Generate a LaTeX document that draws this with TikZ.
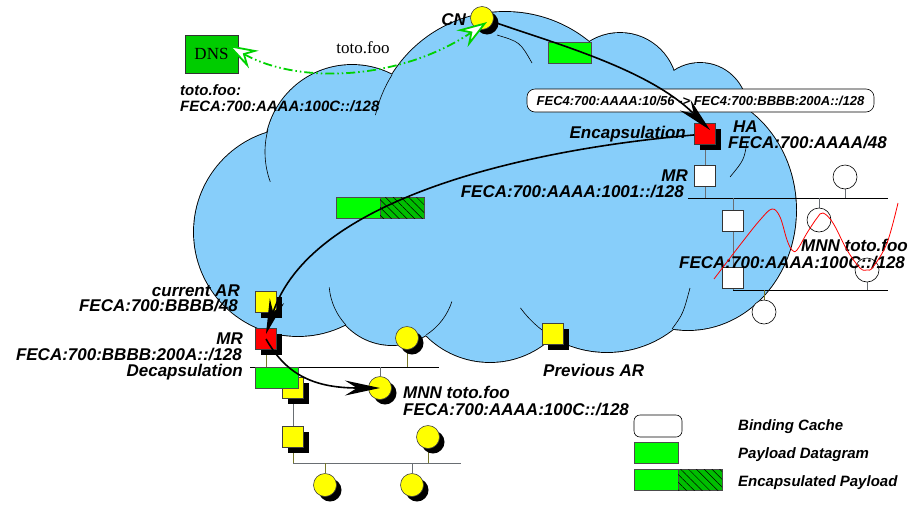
\documentclass[tikz,border=0pt]{standalone}
\usepackage{fontspec}
\setmainfont{Liberation Serif}
\setsansfont{Liberation Sans}
\usetikzlibrary{arrows.meta,shadows,patterns.meta}
\pgfdeclarelayer{cloudlayer}
\pgfdeclarelayer{netlayer}
\pgfsetlayers{cloudlayer,netlayer,main}
\definecolor{cloudblue}{RGB}{135,206,250}
\definecolor{pgreen}{RGB}{0,255,0}
\definecolor{dnsgreen}{RGB}{0,204,0}
\definecolor{hatchgreen}{RGB}{0,190,0}
\definecolor{arrowgreen}{RGB}{0,210,0}
\definecolor{yel}{RGB}{255,255,0}
\definecolor{netgray}{RGB}{105,110,115}
\definecolor{stemolive}{RGB}{120,120,40}
\begin{document}
\begin{tikzpicture}[x=1pt,y=-1pt,
  lab/.style={font=\sffamily\bfseries\itshape\fontsize{17}{19}\selectfont, inner sep=0pt},
  midlab/.style={font=\sffamily\bfseries\itshape\fontsize{15}{17}\selectfont, inner sep=0pt},
  smalllab/.style={font=\sffamily\bfseries\itshape\fontsize{13}{15}\selectfont, inner sep=0pt},
  serif/.style={font=\rmfamily\fontsize{17}{19}\selectfont, inner sep=0pt},
  shad/.style={drop shadow={opacity=1,shadow xshift=5pt,shadow yshift=-5pt,fill=black}},
  sqnode/.style={rectangle, draw=black!75, line width=0.6pt, minimum size=21pt, inner sep=0pt, shad},
  cirnode/.style={circle, draw=black!75, line width=0.6pt, minimum size=23pt, inner sep=0pt, shad},
  plainsq/.style={rectangle, draw=black!80, line width=0.6pt, fill=white, minimum size=21pt, inner sep=0pt},
  plaincir/.style={circle, draw=black, line width=0.6pt, fill=white, minimum size=24pt, inner sep=0pt},
  payload/.style={rectangle, draw=black!70, line width=0.6pt, fill=pgreen, minimum width=43pt, minimum height=21pt, inner sep=0pt},
  hatchbox/.style={rectangle, draw=black!70, line width=0.6pt, fill=hatchgreen, minimum width=44pt, minimum height=21pt, inner sep=0pt,
     postaction={pattern={Lines[angle=-45,distance=5.5pt,line width=0.5pt]},pattern color=black}},
  net/.style={line width=0.7pt, black},
  graynet/.style={line width=0.9pt, netgray},
  stem/.style={line width=0.8pt, netgray},
  olivestem/.style={line width=0.8pt, stemolive},
  bigarrow/.style={line width=1.6pt, arrows={-Stealth[length=35pt,width=15pt,inset=12pt]}},
  garrow/.style={arrowgreen, line width=1.8pt, dash pattern=on 9pt off 3pt on 1.5pt off 3pt on 1.5pt off 3pt,
     arrows={Stealth[length=30pt,width=20pt,inset=10pt,fill=white]-Stealth[length=30pt,width=20pt,inset=10pt,fill=white]}},
  cloudarc/.style={line width=0.6pt, black},
]
\useasboundingbox (0,0) rectangle (910,504);

% ---------- cloud ----------
\begin{pgfonlayer}{cloudlayer}
  \foreach \cx/\cy/\rr in {298/232/104, 352/152/87, 505/145/133, 620/90/57, 700/110/47, 392/282/63, 490/272/90, 607/245/107}
    \draw[line width=1.8pt] (\cx,\cy) circle[radius=\rr pt];
  \draw[line width=1.8pt] (688,210) ellipse[x radius=108pt, y radius=120pt];
  \foreach \cx/\cy/\rr in {298/232/104, 352/152/87, 505/145/133, 620/90/57, 700/110/47, 392/282/63, 490/272/90, 607/245/107}
    \fill[cloudblue] (\cx,\cy) circle[radius=\rr pt];
  \fill[cloudblue] (688,210) ellipse[x radius=108pt, y radius=120pt];
  % inner arcs
  \draw[cloudarc] (352,152) ++(195:87) arc[start angle=195, end angle=160, radius=87];
  \draw[cloudarc] (505,145) ++(212:133) arc[start angle=212, end angle=193, radius=133];
  \draw[cloudarc] (392,282) ++(137:63) arc[start angle=137, end angle=175, radius=63];
  \draw[cloudarc] (392,282) ++(57:63) arc[start angle=57, end angle=18, radius=63];
  \draw[cloudarc] (607,245) ++(121:107) arc[start angle=121, end angle=144, radius=107];
  \draw[cloudarc] (672,329) .. controls (683,314) .. (690,288);
  \draw[cloudarc] (747,142) .. controls (744,160) .. (730,177);
  \draw[cloudarc] (497,35) .. controls (520,42) .. (532,63);
\end{pgfonlayer}

% ---------- nodes ----------
\node[cirnode, fill=yel] (cn) at (482,18) {};
\node[draw=black!80, line width=0.6pt, fill=dnsgreen, minimum width=53pt, minimum height=38pt, inner sep=0pt, serif] (dns) at (211.5,54) {DNS};

% right network
\node[sqnode, fill=red] (ha) at (705,134) {};
\node[plainsq] (mrr) at (705,176) {};
\node[plainsq] (ws1) at (733,221) {};
\node[plainsq] (ws2) at (733,278) {};
\node[plaincir] (wc1) at (845,177) {};
\node[plaincir] (wc2) at (819,220) {};
\node[plaincir] (wc3) at (867,270) {};
\node[plaincir] (wc4) at (764,312) {};
\coordinate (rl1a) at (688,198);
\coordinate (rl1b) at (888,198);
\coordinate (rj1) at (705,198);
\coordinate (rj2) at (733,198);
\coordinate (rj3) at (845,198);
\coordinate (rj4) at (819,198);
\coordinate (rl2a) at (733,290);
\coordinate (rl2b) at (888,290);
\coordinate (rj5) at (867,290);
\coordinate (rj6) at (764,290);

% left network
\node[sqnode, fill=yel] (car) at (266,302) {};
\node[sqnode, fill=red] (mrl) at (266,339) {};
\node[sqnode, fill=yel] (ya) at (293,388) {};
\node[payload] (pl2) at (276.5,377.5) {};
\node[sqnode, fill=yel] (yb) at (293,437) {};
\node[cirnode, fill=yel] (yc1) at (407,338) {};
\node[cirnode, fill=yel] (mnn) at (380,388) {};
\node[cirnode, fill=yel] (yc2) at (428,437) {};
\node[cirnode, fill=yel] (yc3) at (325,485) {};
\node[cirnode, fill=yel] (yc4) at (412,485) {};
\node[sqnode, fill=yel] (par) at (553,334) {};
\coordinate (ll1a) at (250,367);
\coordinate (ll1b) at (439,367);
\coordinate (lj1) at (266,367);
\coordinate (lj2) at (407,367);
\coordinate (lj3) at (380,367);
\coordinate (ll2a) at (293,463);
\coordinate (ll2b) at (461,463);
\coordinate (lj4) at (428,463);
\coordinate (lj5) at (325,463);
\coordinate (lj6) at (412,463);

\begin{pgfonlayer}{netlayer}
  \draw[stem] (ha) -- (mrr);
  \draw[stem] (mrr) -- (rj1);
  \draw[net] (rl1a) -- (rl1b);
  \draw[stem] (rj2) -- (ws1);
  \draw[stem] (ws1) -- (ws2);
  \draw[stem] (ws2) -- (rl2a);
  \draw[net] (rl2a) -- (rl2b);
  \draw[stem] (wc1) -- (rj3);
  \draw[stem] (wc2) -- (rj4);
  \draw[stem] (wc3) -- (rj5);
  \draw[olivestem] (wc4) -- (rj6);
  \draw[olivestem] (mrl) -- (lj1);
  \draw[net] (ll1a) -- (ll1b);
  \draw[olivestem] (yc1) -- (lj2);
  \draw[stem] (mnn) -- (lj3);
  \draw[stem] (ya) -- (yb);
  \draw[olivestem] (yb) -- (ll2a);
  \draw[graynet] (ll2a) -- (ll2b);
  \draw[olivestem] (yc2) -- (lj4);
  \draw[olivestem] (yc3) -- (lj5);
  \draw[stem] (yc4) -- (lj6);
\end{pgfonlayer}

% payload boxes
\node[payload] (pl1) at (569.5,52.5) {};
\node[payload, minimum width=44pt] (ep1) at (358,208) {};
\node[hatchbox] (ep2) at (402,208) {};

% binding cache
\node[draw=black, line width=0.6pt, rounded corners=8pt, fill=white, minimum width=347pt, minimum height=23pt, inner sep=0pt, smalllab] (bc) at (700.5,100.5) {FEC4:700:AAAA:10/56 -> FEC4:700:BBBB:200A::/128};

% ---------- labels ----------
\node[lab, anchor=base east] (lcn) at (466,25) {CN};
\node[midlab, anchor=base west] (ld1) at (180,95) {toto.foo:};
\node[midlab, anchor=base west] (ld2) at (180,111.5) {FECA:700:AAAA:100C::/128};
\node[serif, anchor=base] (ltoto) at (363,53) {toto.foo};
\node[lab, anchor=base east] (lenc) at (686,138.5) {Encapsulation};
\node[lab, anchor=base west] (lha1) at (733,132) {HA};
\node[lab, anchor=base west] (lha2) at (728,148) {FECA:700:AAAA/48};
\node[lab, anchor=base east] (lmr1) at (688,181.5) {MR};
\node[lab, anchor=base east] (lmr2) at (684,197) {FECA:700:AAAA:1001::/128};
\node[lab, anchor=base west] (lmn1) at (801,251) {MNN toto.foo};
\node[lab, anchor=base west] (lmn2) at (679,268) {FECA:700:AAAA:100C::/128};
\node[lab, anchor=base east] (lcar1) at (240,296) {current AR};
\node[lab, anchor=base east] (lcar2) at (238,311.5) {FECA:700:BBBB/48};
\node[lab, anchor=base east] (lmrl1) at (243,344) {MR};
\node[lab, anchor=base east] (lmrl2) at (242,360) {FECA:700:BBBB:200A::/128};
\node[lab, anchor=base east] (ldec) at (243,376) {Decapsulation};
\node[lab, anchor=base west] (lmnb1) at (403,398) {MNN toto.foo};
\node[lab, anchor=base west] (lmnb2) at (403,415) {FECA:700:AAAA:100C::/128};
\node[lab, anchor=base west] (lpar) at (543,376.5) {Previous AR};

% ---------- arrows ----------
\draw[bigarrow] (cn) .. controls (560,45) and (650,70) .. ([xshift=5pt,yshift=4pt]ha.center);
\draw[bigarrow] (ha) .. controls (520,150) and (310,200) .. ([yshift=5pt]mrl.center);
\draw[bigarrow] (mrl.center) .. controls (285,372) and (310,388) .. (mnn.center);
\draw[garrow] ([xshift=16pt,yshift=9pt]dns.center) .. controls (300,85) and (400,80) .. ([xshift=5pt,yshift=-4pt]cn.center);

% red curve
\draw[red, line width=0.8pt] plot[smooth, tension=0.6] coordinates {(714,279) (740,245) (760,220) (772,209) (780,217) (787,240) (792,250) (797,250) (807,233) (817,218) (823,213) (833,223) (847,250) (860,268) (867,270) (873,267) (887,243) (898,203)};

% ---------- legend ----------
\node[draw=black, line width=0.6pt, rounded corners=6pt, fill=white, minimum width=48pt, minimum height=22pt, inner sep=0pt] (lg1) at (658,426) {};
\node[payload, minimum width=44pt] (lg2) at (656,452.5) {};
\node[payload, minimum width=44pt] (lg3a) at (656,479.5) {};
\node[hatchbox] (lg3b) at (700,479.5) {};
\node[midlab, anchor=base west] (lgt1) at (738,430.5) {Binding Cache};
\node[midlab, anchor=base west] (lgt2) at (738,458) {Payload Datagram};
\node[midlab, anchor=base west] (lgt3) at (738,486) {Encapsulated Payload};
\end{tikzpicture}
\end{document}
